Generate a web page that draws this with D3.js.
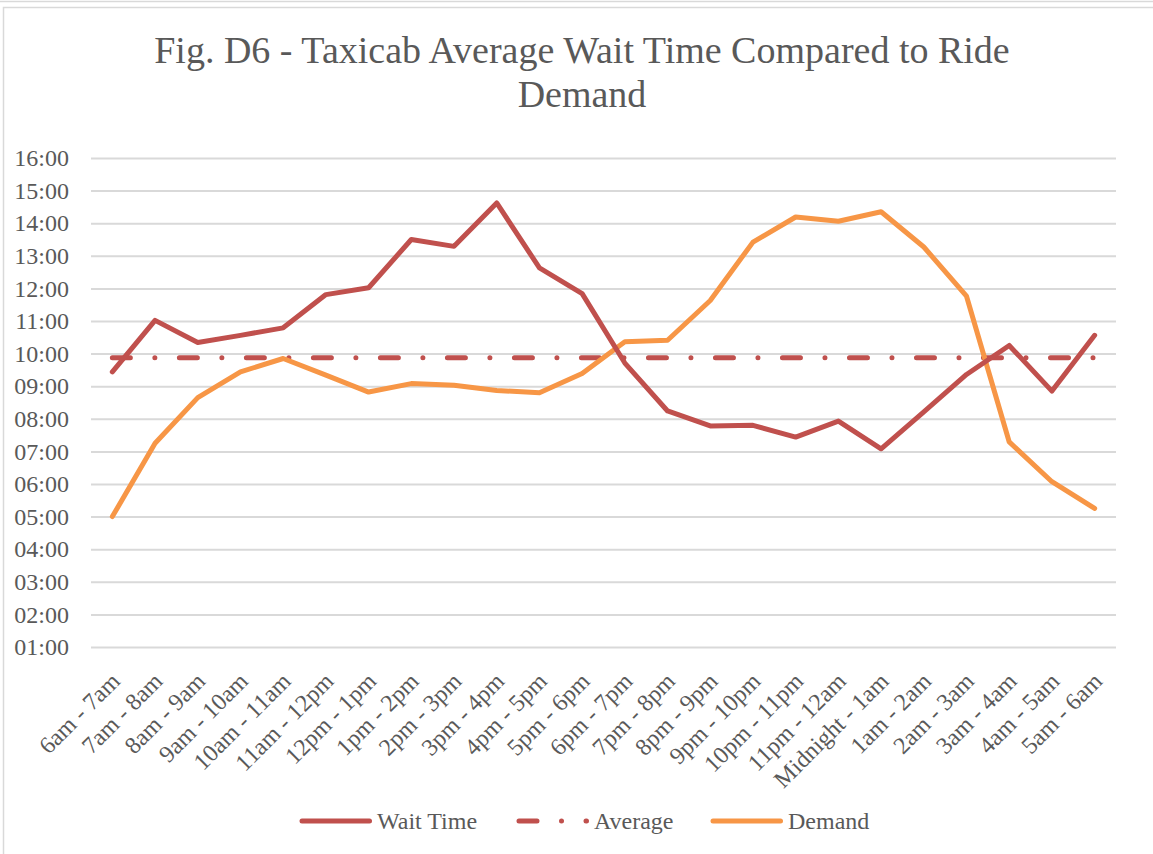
<!DOCTYPE html>
<html>
<head>
<meta charset="utf-8">
<script src="https://cdn.jsdelivr.net/npm/d3@7"></script>
<style>
    body { margin: 0; background: #ffffff; }
</style>
</head>
<body>
<script>
// categories (hour ranges)
var categories = ["6am - 7am", "7am - 8am", "8am - 9am", "9am - 10am", "10am - 11am", "11am - 12pm",
    "12pm - 1pm", "1pm - 2pm", "2pm - 3pm", "3pm - 4pm", "4pm - 5pm", "5pm - 6pm",
    "6pm - 7pm", "7pm - 8pm", "8pm - 9pm", "9pm - 10pm", "10pm - 11pm", "11pm - 12am",
    "Midnight - 1am", "1am - 2am", "2am - 3am", "3am - 4am", "4am - 5am", "5am - 6am"];

// values in minutes (axis shows mm:ss)
var waitTime = [9.44, 11.02, 10.34, 10.56, 10.79, 11.81, 12.02, 13.50, 13.29, 14.62, 12.63, 11.84,
    9.71, 8.24, 7.78, 7.80, 7.44, 7.93, 7.08, 8.21, 9.36, 10.25, 8.85, 10.56];
var demand = [5.00, 7.25, 8.65, 9.44, 9.85, 9.34, 8.82, 9.08, 9.03, 8.87, 8.80, 9.39,
    10.36, 10.41, 11.63, 13.42, 14.19, 14.06, 14.35, 13.27, 11.76, 7.29, 6.07, 5.25];
var averageWait = 9.87;

var yTicks = [1, 2, 3, 4, 5, 6, 7, 8, 9, 10, 11, 12, 13, 14, 15, 16];
var yTickLabels = ["01:00", "02:00", "03:00", "04:00", "05:00", "06:00", "07:00", "08:00",
    "09:00", "10:00", "11:00", "12:00", "13:00", "14:00", "15:00", "16:00"];

var seriesNames = ["Wait Time", "Average", "Demand"];

var red = "#c0504d",
    orange = "#f79646",
    textColor = "#595959",
    gridColor = "#d9d9d9",
    font = "'Liberation Serif', 'Times New Roman', serif";

var margin = { top: 158, right: 37, bottom: 174.4, left: 91 },
    width = 1153 - margin.left - margin.right,
    height = 854 - margin.top - margin.bottom;

var svgRoot = d3.select("body")
    .append("svg")
    .attr("width", 1153)
    .attr("height", 854)
    .style("font-family", font);

// chart border
svgRoot.append("line")
    .attr("x1", 0).attr("x2", 1153)
    .attr("y1", 1.5).attr("y2", 1.5)
    .attr("stroke", gridColor)
    .attr("stroke-width", 1.5);
svgRoot.append("rect")
    .attr("x", 3.5).attr("y", 7.5)
    .attr("width", 1200).attr("height", 900)
    .attr("fill", "none")
    .attr("stroke", gridColor)
    .attr("stroke-width", 1.5);

// title
var title = svgRoot.append("text")
    .attr("text-anchor", "middle")
    .style("font-size", "38px")
    .style("fill", textColor);
title.append("tspan").attr("x", 582).attr("y", 63)
    .text("Fig. D6 - Taxicab Average Wait Time Compared to Ride");
title.append("tspan").attr("x", 582).attr("y", 107)
    .text("Demand");

var svg = svgRoot.append("g")
    .attr("transform", "translate(" + margin.left + "," + margin.top + ")");

var x = d3.scaleBand()
    .domain(categories)
    .range([0, width]);

var cx = function(c) { return x(c) + x.bandwidth() / 2; };

var y = d3.scaleLinear()
    .domain([0, 16])
    .range([height, 0]);

// gridlines
svg.append("g")
    .call(d3.axisLeft(y).tickValues(yTicks).tickSize(-width).tickFormat(""))
    .call(function(g) { g.select(".domain").remove(); })
    .selectAll("line")
    .attr("stroke", gridColor)
    .attr("stroke-width", 2);

// Y-as
svg.append("g")
    .call(d3.axisLeft(y).tickValues(yTicks).tickSize(0).tickPadding(22)
        .tickFormat(function(d, i) { return yTickLabels[i]; }))
    .call(function(g) { g.select(".domain").remove(); })
    .selectAll("text")
    .style("font-family", font)
    .style("font-size", "24px")
    .style("fill", textColor);

// X-as
svg.append("g")
    .attr("transform", "translate(0," + height + ")")
    .call(d3.axisBottom(x).tickSize(0))
    .call(function(g) { g.select(".domain").remove(); })
    .selectAll("text")
    .style("font-family", font)
    .style("font-size", "24px")
    .style("fill", textColor)
    .style("text-anchor", "end")
    .attr("x", 0)
    .attr("y", 0)
    .attr("dy", 0)
    .attr("transform", "translate(9,3) rotate(-45)");

// average line
svg.append("path")
    .datum(categories)
    .attr("d", d3.line()
        .x(function(d) { return cx(d); })
        .y(function() { return y(averageWait); }))
    .attr("fill", "none")
    .attr("stroke", red)
    .attr("stroke-width", 5)
    .attr("stroke-linecap", "round")
    .attr("stroke-dasharray", "18 24.5 0.01 24.5");

var line = d3.line()
    .x(function(d, i) { return cx(categories[i]); })
    .y(function(d) { return y(d); });

svg.append("path")
    .datum(demand)
    .attr("d", line)
    .attr("fill", "none")
    .attr("stroke", orange)
    .attr("stroke-width", 5)
    .attr("stroke-linecap", "round")
    .attr("stroke-linejoin", "round");

svg.append("path")
    .datum(waitTime)
    .attr("d", line)
    .attr("fill", "none")
    .attr("stroke", red)
    .attr("stroke-width", 5)
    .attr("stroke-linecap", "round")
    .attr("stroke-linejoin", "round");

// legend
var legendX = [302, 519, 713],
    legendColors = [red, red, orange],
    legendDash = [null, "18 24.5 0.01 24.5", null];

var legend = svgRoot.append("g")
    .selectAll("g")
    .data(seriesNames)
    .enter()
    .append("g")
    .attr("transform", function(d, i) { return "translate(" + legendX[i] + ",821)"; });

legend.append("line")
    .attr("x1", 0).attr("x2", 67.5)
    .attr("stroke", function(d, i) { return legendColors[i]; })
    .attr("stroke-width", 5)
    .attr("stroke-linecap", "round")
    .attr("stroke-dasharray", function(d, i) { return legendDash[i]; });

legend.append("text")
    .attr("x", 75)
    .attr("dy", "0.33em")
    .style("font-size", "24px")
    .style("fill", textColor)
    .text(function(d) { return d; });
</script>
</body>
</html>
